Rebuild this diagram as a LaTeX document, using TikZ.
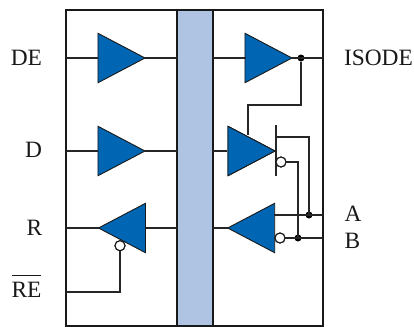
\documentclass[tikz,border=0pt]{standalone}
\usepackage{fontspec}
\setmainfont{Liberation Serif}
\usetikzlibrary{shapes.geometric}
\definecolor{buf}{HTML}{0066B3}
\definecolor{barc}{HTML}{AFC3E3}
\tikzset{
  x=1bp,y=-1bp,
  wire/.style={line width=1.2bp,draw=black!85},
  buffer/.style={isosceles triangle,isosceles triangle apex angle=55.5,draw=black!90,fill=buf,line width=0.9bp,inner sep=0pt,outer sep=0pt,minimum height=47bp},
  bufR/.style={buffer,anchor=apex},
  bufL/.style={buffer,anchor=apex,shape border rotate=180},
  bubble/.style={circle,draw=black!90,fill=white,line width=1.1bp,inner sep=0pt,outer sep=0pt,minimum size=10bp},
  junction/.style={circle,fill=black,inner sep=0pt,outer sep=0pt,minimum size=7bp},
  lab/.style={inner sep=0pt,outer sep=0pt,font=\fontsize{23.4bp}{26bp}\selectfont,text=black!90},
  labL/.style={lab,anchor=base east},
  labRt/.style={lab,anchor=base west}
}
\begin{document}
\begin{tikzpicture}
\useasboundingbox (0,0) rectangle (414,327);
\node[draw=black!90,line width=1.3bp,fill=white,inner sep=0pt,outer sep=0pt,minimum width=257bp,minimum height=316bp,anchor=north west] (frame) at (66,10) {};
\node[draw=black!90,line width=1.1bp,fill=barc,inner sep=0pt,outer sep=0pt,minimum width=36bp,minimum height=316bp,anchor=north west] (bar) at (177,10) {};
% buffers
\node[bufR] (b1) at (145,58) {};
\node[bufR] (b2) at (145,151) {};
\node[bufL] (b3) at (98.5,228) {};
\node[bufR] (b4) at (292,58) {};
\node[bufR] (b5) at (275,151) {};
\node[bufL] (b6) at (227.7,228) {};
% coordinates on the frame and bar
\coordinate (f1) at (66,58); \coordinate (f2) at (66,151); \coordinate (f3) at (66,228); \coordinate (f4) at (66,292);
\coordinate (c1l) at (177,58); \coordinate (c2l) at (177,151); \coordinate (c3l) at (177,228);
\coordinate (c1r) at (213,58); \coordinate (c2r) at (213,151); \coordinate (c3r) at (213,228);
\coordinate (o1) at (323,58); \coordinate (oA) at (323,215); \coordinate (oB) at (323,238);
\coordinate (gTop) at (276,125); \coordinate (gBot) at (276,176); \coordinate (gTap) at (276,137);
\coordinate (bend1) at (248,105); \coordinate (b5top) at (248,135);
\coordinate (b3in) at (145.5,228); \coordinate (b1in) at (98,58); \coordinate (b2in) at (98,151);
\coordinate (b4in) at (245.5,58); \coordinate (b5in) at (227.3,151); \coordinate (b6out) at (274.3,215);
% bubbles and junctions
\node[bubble] (n1) at (120,245.7) {};
\node[bubble] (n2) at (281,162) {};
\node[bubble] (n3) at (280,238) {};
\node[junction] (j1) at (301,58) {};
\node[junction] (jA) at (309,215) {};
\node[junction] (jB) at (298,238) {};
% wires
\draw[wire] (f1) -- (b1in);
\draw[wire] (b1.apex) -- (c1l);
\draw[wire] (f2) -- (b2in);
\draw[wire] (b2.apex) -- (c2l);
\draw[wire] (f3) -- (b3.apex);
\draw[wire] (b3in) -- (c3l);
\draw[wire] (c1r) -- (b4in);
\draw[wire] (b4.apex) -- (o1);
\draw[wire] (c2r) -- (b5in);
\draw[wire] (c3r) -- (b6.apex);
\draw[wire] (j1) |- (bend1) -- (b5top);
\draw[wire] (gTop) -- (gBot);
\draw[wire] (gTap) -| (jA.center);
\draw[wire] (n2) -| (jB.center);
\draw[wire] (b6out) -- (oA);
\draw[wire] (n3) -- (oB);
\draw[wire] (n1) |- (f4);
% redraw tops so wire ends sit behind
\node[bufR] at (275,151) {};
\node[bubble] at (120,245.7) {};
\node[bubble] at (281,162) {};
\node[bubble] at (280,238) {};
% labels
\node[labL] (lDE) at (42,65.7) {DE};
\node[labL] (lD) at (42,157) {D};
\node[labL] (lR) at (42.3,235) {R};
\node[labL] (lRE) at (41.5,297.7) {RE};
\coordinate (ovL) at (12,275); \coordinate (ovR) at (41,275);
\draw[line width=1bp,draw=black!90] (ovL) -- (ovR);
\node[labRt] (lI) at (344,65.3) {ISODE};
\node[labRt] (lA) at (344.5,221) {A};
\node[labRt] (lB) at (344.5,248.7) {B};
\end{tikzpicture}
\end{document}
